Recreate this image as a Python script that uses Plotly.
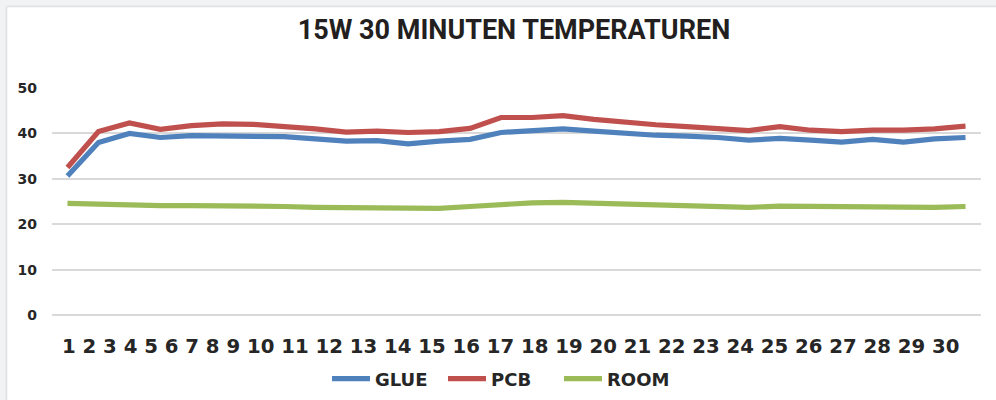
import plotly.graph_objects as go

# ---- data ----
minutes = [str(i) for i in range(1, 31)]
glue = [30.6, 38.0, 40.0, 39.1, 39.5, 39.5, 39.5, 39.3, 38.8, 38.3,
        38.4, 37.7, 38.3, 38.7, 40.2, 40.7, 41.0, 40.5, 40.0, 39.6,
        39.4, 39.1, 38.5, 38.9, 38.5, 38.1, 38.7, 38.1, 38.8, 39.1]
pcb = [32.5, 40.4, 42.3, 40.9, 41.7, 42.1, 42.0, 41.6, 41.0, 40.3,
       40.5, 40.2, 40.4, 41.1, 43.5, 43.5, 43.9, 43.1, 42.4, 41.9,
       41.5, 41.0, 40.6, 41.5, 40.7, 40.4, 40.7, 40.7, 41.0, 41.6]
room = [24.6, 24.4, 24.3, 24.1, 24.1, 24.1, 24.1, 23.9, 23.7, 23.6,
        23.5, 23.6, 23.5, 23.9, 24.4, 24.7, 24.8, 24.6, 24.4, 24.1,
        23.9, 23.8, 23.7, 24.0, 23.9, 23.8, 23.9, 23.7, 23.7, 23.9]
y_ticks = [0, 10, 20, 30, 40, 50]
title_text = "15W 30 MINUTEN TEMPERATUREN"

series = [("GLUE", glue, "#4F81BD"), ("PCB", pcb, "#C0504D"), ("ROOM", room, "#9BBB59")]

W, H = 996, 400
ML, MR, MT, MB = 52, 15, 88, 85
plot_w = W - ML - MR
plot_h = H - MT - MB

fig = go.Figure()
for name, vals, col in series:
    fig.add_trace(go.Scatter(x=minutes, y=vals, name=name, mode="lines",
                             line=dict(color=col, width=5.2)))

bold = dict(family="DejaVu Sans", weight="bold", color="#262626")

fig.update_layout(
    width=W, height=H,
    margin=dict(l=ML, r=MR, t=MT, b=MB, autoexpand=False),
    paper_bgcolor="white",
    plot_bgcolor="white",
    title=dict(text=title_text, x=514 / W, xref="container", xanchor="center",
               y=1 - 30 / H, yref="container", yanchor="middle",
               font=dict(family="Roboto", weight="bold", size=27, color="#231f20")),
    xaxis=dict(type="category", range=[-0.5, 29.5], showticklabels=False,
               showgrid=False, zeroline=False, showline=False, ticks="",
               automargin=False),
    yaxis=dict(range=[0, 50], tickvals=y_ticks, showgrid=True, gridcolor="#d9d9d9",
               gridwidth=2, zeroline=True, zerolinecolor="#d9d9d9", zerolinewidth=2,
               showline=False, ticks="",
               ticklabelstandoff=14, tickfont=dict(size=14, **bold),
               automargin=False),
    showlegend=True,
    legend=dict(orientation="h", x=(501 - ML) / plot_w, xanchor="center",
                y=(315 - 379) / plot_h, yanchor="middle", itemwidth=38,
                entrywidthmode="pixels", entrywidth=63,
                font=dict(size=18, **bold), bgcolor="rgba(0,0,0,0)"),
)

# light frame bands at the top and left edge
band = "#f1f2f3"
edge = "#dfe0e1"
fig.add_shape(type="rect", xref="paper", yref="paper", layer="below",
              x0=-ML / plot_w, x1=(W - ML) / plot_w,
              y0=(plot_h + MT) / plot_h, y1=(plot_h + MT - 6) / plot_h,
              fillcolor=band, line=dict(width=0))
fig.add_shape(type="rect", xref="paper", yref="paper", layer="below",
              x0=-ML / plot_w, x1=(6 - ML) / plot_w,
              y0=(plot_h + MT) / plot_h, y1=-MB / plot_h,
              fillcolor=band, line=dict(width=0))
fig.add_shape(type="line", xref="paper", yref="paper", layer="below",
              x0=(6.5 - ML) / plot_w, x1=(W - ML) / plot_w,
              y0=(plot_h + MT - 6.5) / plot_h, y1=(plot_h + MT - 6.5) / plot_h,
              line=dict(color=edge, width=1.5))
fig.add_shape(type="line", xref="paper", yref="paper", layer="below",
              x0=(6.5 - ML) / plot_w, x1=(6.5 - ML) / plot_w,
              y0=(plot_h + MT - 6.5) / plot_h, y1=-MB / plot_h,
              line=dict(color=edge, width=1.5))

# category labels as a single text flow under the plot
fig.add_annotation(text=" ".join(minutes), xref="paper", yref="paper",
                   x=(510.5 - ML) / plot_w, xanchor="center",
                   y=-31.5 / plot_h, yanchor="middle", showarrow=False,
                   font=dict(size=19.7, **bold))

fig.write_html("out.html", config={"displayModeBar": False},
               post_script="document.body.style.margin='0';")
